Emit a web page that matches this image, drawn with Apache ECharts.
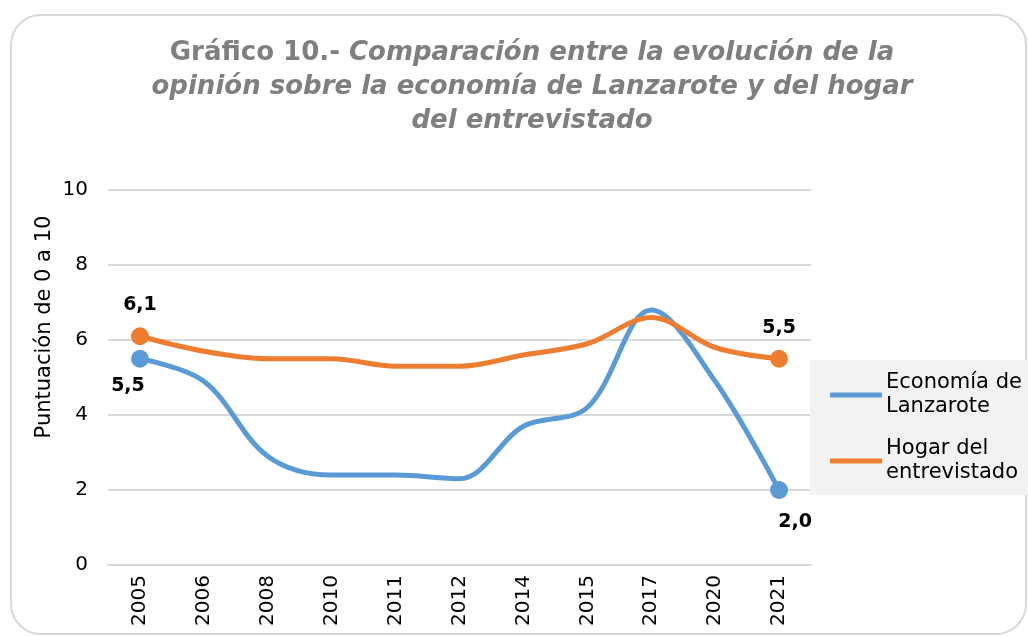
<!DOCTYPE html>
<html>
<head>
<meta charset="utf-8">
<script src="https://cdn.jsdelivr.net/npm/echarts@6/dist/echarts.min.js"></script>
<style>
  html, body { margin: 0; padding: 0; background: #fff; }
  #main { width: 1028px; height: 637px; }
</style>
</head>
<body>
<div id="main"></div>
<script>
var years = ['2005', '2006', '2008', '2010', '2011', '2012', '2014', '2015', '2017', '2020', '2021'];
var economia = [5.5, 4.9, 2.9, 2.4, 2.4, 2.3, 3.7, 4.2, 6.8, 4.9, 2.0];
var hogar = [6.1, 5.7, 5.5, 5.5, 5.3, 5.3, 5.6, 5.9, 6.6, 5.8, 5.5];
var yTicks = [0, 2, 4, 6, 8, 10];

var font = 'DejaVu Sans, Verdana, sans-serif';

function fmt(v) {
    return v.toFixed(1).replace('.', ',');
}

// only first and last points get a marker and a label
function endPoints(values, firstPos, lastPos, firstOff, lastOff) {
    return values.map(function (v, i) {
        var last = values.length - 1;
        if (i !== 0 && i !== last) {
            return { value: v };
        }
        return {
            value: v,
            symbol: 'circle',
            symbolSize: 18,
            label: {
                show: true,
                position: i === 0 ? firstPos : lastPos,
                offset: i === 0 ? firstOff : lastOff,
                distance: 12,
                formatter: function (p) { return fmt(p.value); },
                fontFamily: font,
                fontWeight: 'bold',
                fontSize: 19,
                color: '#000'
            }
        };
    });
}

var chart = echarts.init(document.getElementById('main'));
var option = {
    animation: false,
    backgroundColor: '#fff',
    graphic: [{
        type: 'rect',
        shape: { x: 11, y: 15, width: 1015, height: 619, r: 30 },
        style: { fill: 'none', stroke: '#d9d9d9', lineWidth: 2 },
        silent: true,
        z: -1
    }, {
        type: 'text',
        x: 45,
        y: 327,
        rotation: Math.PI / 2,
        style: {
            text: 'Puntuación de 0 a 10',
            fontFamily: font,
            fontSize: 21,
            fill: '#000',
            align: 'center',
            verticalAlign: 'middle'
        }
    }],
    title: {
        left: 527,
        top: 31,
        textAlign: 'center',
        text: '{b|Gráfico 10.- }{i|Comparación entre la evolución de la}\n' +
              '{i|opinión sobre la economía de Lanzarote y del hogar}\n' +
              '{i|del entrevistado}',
        textStyle: {
            lineHeight: 34,
            rich: {
                b: { fontFamily: font, fontWeight: 'bold', fontSize: 26, color: '#7f7f7f', lineHeight: 34 },
                i: { fontFamily: font, fontWeight: 'bold', fontStyle: 'italic', fontSize: 26, color: '#7f7f7f', lineHeight: 34 }
            }
        }
    },
    legend: {
        orient: 'vertical',
        left: 810,
        top: 360,
        width: 218,
        padding: [11, 30, 10, 20],
        backgroundColor: '#f2f2f2',
        itemGap: 18,
        itemWidth: 52,
        itemHeight: 5,
        itemGap: 18,
        icon: 'roundRect',
        textStyle: { fontFamily: font, fontSize: 21, color: '#000', lineHeight: 24, padding: [0, 0, 0, -1] },
        data: ['Economía de\nLanzarote', 'Hogar del\nentrevistado']
    },
    grid: { left: 108, right: 217, top: 190, bottom: 72 },
    xAxis: {
        type: 'category',
        data: years,
        boundaryGap: true,
        axisLine: { lineStyle: { color: '#d9d9d9', width: 2 } },
        axisTick: { show: false },
        axisLabel: { rotate: 90, fontFamily: font, fontSize: 20, color: '#000', margin: 10 }
    },
    yAxis: {
        type: 'value',
        min: 0,
        max: 10,
        interval: 2,
        axisLine: { show: false },
        axisTick: { show: false },
        splitLine: { lineStyle: { color: '#d9d9d9', width: 2 } },
        axisLabel: {
            fontFamily: font, fontSize: 20, color: '#000', margin: 20,
            formatter: function (v) { return yTicks.indexOf(v) >= 0 ? String(v) : ''; }
        }
    },
    series: [{
        name: 'Economía de\nLanzarote',
        type: 'line',
        smooth: 0.35,
        symbol: 'none',
        color: '#5b9bd5',
        lineStyle: { width: 5, color: '#5b9bd5', cap: 'round' },
        itemStyle: { color: '#5b9bd5' },
        data: endPoints(economia, 'bottom', 'bottom', [-12, -3], [16, 2])
    }, {
        name: 'Hogar del\nentrevistado',
        type: 'line',
        smooth: 0.35,
        symbol: 'none',
        color: '#ed7d31',
        lineStyle: { width: 5, color: '#ed7d31', cap: 'round' },
        itemStyle: { color: '#ed7d31' },
        data: endPoints(hogar, 'top', 'top', [0, -1], [0, 0])
    }]
};
chart.setOption(option);
</script>
</body>
</html>
